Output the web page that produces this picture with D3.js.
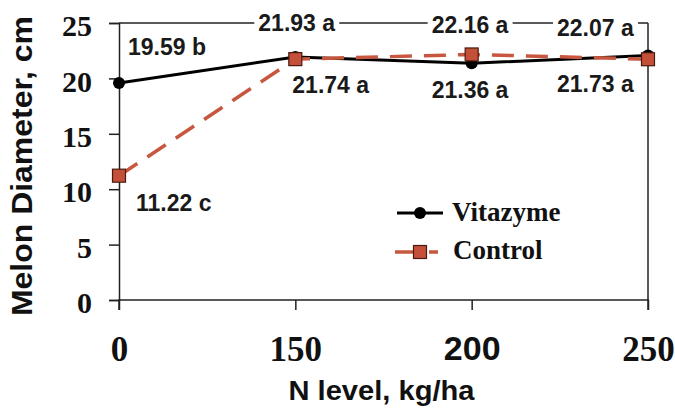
<!DOCTYPE html>
<html><head><meta charset="utf-8">
<script src="https://cdn.jsdelivr.net/npm/d3@7"></script>
<style>
html,body{margin:0;padding:0;background:#fff;}
svg{display:block;}
</style></head>
<body>
<svg id="chart" width="675" height="408"></svg>
<script>
// ---- data ----
const categories = ["0", "150", "200", "250"];
const vitazyme = [19.59, 21.93, 21.36, 22.07];
const control = [11.22, 21.74, 22.16, 21.73];
const vitazymeLetters = ["b", "a", "a", "a"];
const controlLetters = ["c", "a", "a", "a"];
const yTicks = [0, 5, 10, 15, 20, 25];
const seriesNames = ["Vitazyme", "Control"];
const xTitle = "N level, kg/ha";
const yTitle = "Melon Diameter, cm";

// ---- layout (label offsets relative to their point) ----
const vitOffsets = [[9, -28], [-37, -26], [-40, 35], [-91, -19]];
const ctlOffsets = [[17, 35], [-3, 34], [-40, -21], [-91, 33]];

const serif = "'Liberation Serif','Times New Roman',serif";
const sans = "'Liberation Sans',Arial,sans-serif";
const red = "#c8573f";

const svg = d3.select("#chart");
const x = d3.scalePoint().domain(categories).range([119, 648]);
const y = d3.scaleLinear().domain([0, 25]).range([300, 23]);

// frame lines (top + right)
svg.append("line").attr("x1", x.range()[0]).attr("x2", x.range()[1])
  .attr("y1", y(25)).attr("y2", y(25)).attr("stroke", "#222").attr("stroke-width", 1.5);
svg.append("line").attr("x1", x.range()[1]).attr("x2", x.range()[1])
  .attr("y1", y(25)).attr("y2", y(0)).attr("stroke", "#222").attr("stroke-width", 1.5);

// y axis
const gy = svg.append("g").attr("transform", `translate(${x.range()[0]},0)`)
  .call(d3.axisLeft(y).tickValues(yTicks).tickSize(10).tickPadding(17).tickFormat(d3.format("d")));
gy.selectAll("path,line").attr("stroke", "#222").attr("stroke-width", 1.5);
gy.selectAll("text").attr("font-family", serif).attr("font-weight", "bold")
  .attr("font-size", 30).attr("fill", "#111").attr("dy", "0.42em");

// x axis
const gx = svg.append("g").attr("transform", `translate(0,${y(0)})`)
  .call(d3.axisBottom(x).tickSize(10).tickPadding(26));
gx.selectAll("path,line").attr("stroke", "#222").attr("stroke-width", 1.5);
gx.selectAll("text").attr("font-weight", "bold").attr("fill", "#111")
  .attr("font-family", d => d === "200" ? sans : serif)
  .attr("font-size", d => d === "200" ? 34 : 35);
gx.select(".domain").attr("d", `M${x.range()[0]},10V0H${x.range()[1]}V10`);

// axis titles
svg.append("text").attr("x", (x.range()[0] + x.range()[1]) / 2 - 2).attr("y", 400)
  .attr("text-anchor", "middle").attr("font-family", sans).attr("font-weight", "bold")
  .attr("font-size", 28).attr("fill", "#111")
  .attr("textLength", 186).attr("lengthAdjust", "spacingAndGlyphs").text(xTitle);
svg.append("text").attr("transform", "translate(32,166) rotate(-90)")
  .attr("text-anchor", "middle").attr("font-family", sans).attr("font-weight", "bold")
  .attr("font-size", 30).attr("fill", "#111")
  .attr("textLength", 300).attr("lengthAdjust", "spacingAndGlyphs").text(yTitle);

// lines
const line = d3.line().x((d, i) => x(categories[i])).y(d => y(d));
svg.append("path").datum(vitazyme).attr("d", line)
  .attr("fill", "none").attr("stroke", "#000").attr("stroke-width", 3);
svg.selectAll("circle.v").data(vitazyme).join("circle").attr("class", "v")
  .attr("cx", (d, i) => x(categories[i])).attr("cy", d => y(d)).attr("r", 6).attr("fill", "#000");
svg.append("path").datum(control).attr("d", line)
  .attr("fill", "none").attr("stroke", red).attr("stroke-width", 3.5).attr("stroke-dasharray", "22,12");
svg.selectAll("rect.c").data(control).join("rect").attr("class", "c")
  .attr("x", (d, i) => x(categories[i]) - 6.5).attr("y", d => y(d) - 6.5)
  .attr("width", 13).attr("height", 13).attr("fill", "#c4503a").attr("stroke", "#4a1a0e").attr("stroke-width", 1.2);

// data labels
function addLabels(values, letters, offsets) {
  values.forEach((v, i) => {
    const g = svg.append("g");
    const bg = g.append("rect").attr("fill", "#fff");
    const t = g.append("text")
      .attr("x", x(categories[i]) + offsets[i][0]).attr("y", y(v) + offsets[i][1])
      .attr("font-family", sans).attr("font-weight", "bold").attr("font-size", 23).attr("fill", "#1a1a1a")
      .text(v.toFixed(2) + " " + letters[i]);
    const b = t.node().getBBox();
    bg.attr("x", b.x - 4).attr("y", b.y).attr("width", b.width + 8).attr("height", b.height);
  });
}
addLabels(vitazyme, vitazymeLetters, vitOffsets);
addLabels(control, controlLetters, ctlOffsets);

// legend
const lg = svg.append("g");
lg.append("line").attr("x1", 397).attr("x2", 443).attr("y1", 213).attr("y2", 213)
  .attr("stroke", "#000").attr("stroke-width", 3);
lg.append("circle").attr("cx", 420).attr("cy", 213).attr("r", 6).attr("fill", "#000");
lg.append("text").attr("x", 452).attr("y", 221).attr("font-family", serif).attr("font-weight", "bold")
  .attr("font-size", 27).attr("fill", "#111").text(seriesNames[0]);
lg.append("line").attr("x1", 395).attr("x2", 438).attr("y1", 252).attr("y2", 252)
  .attr("stroke", red).attr("stroke-width", 3.5).attr("stroke-dasharray", "22,12");
lg.append("rect").attr("x", 413.5).attr("y", 245.5).attr("width", 13).attr("height", 13)
  .attr("fill", "#c4503a").attr("stroke", "#4a1a0e").attr("stroke-width", 1.2);
lg.append("text").attr("x", 453).attr("y", 259).attr("font-family", serif).attr("font-weight", "bold")
  .attr("font-size", 27).attr("fill", "#111").text(seriesNames[1]);
</script>
</body></html>
